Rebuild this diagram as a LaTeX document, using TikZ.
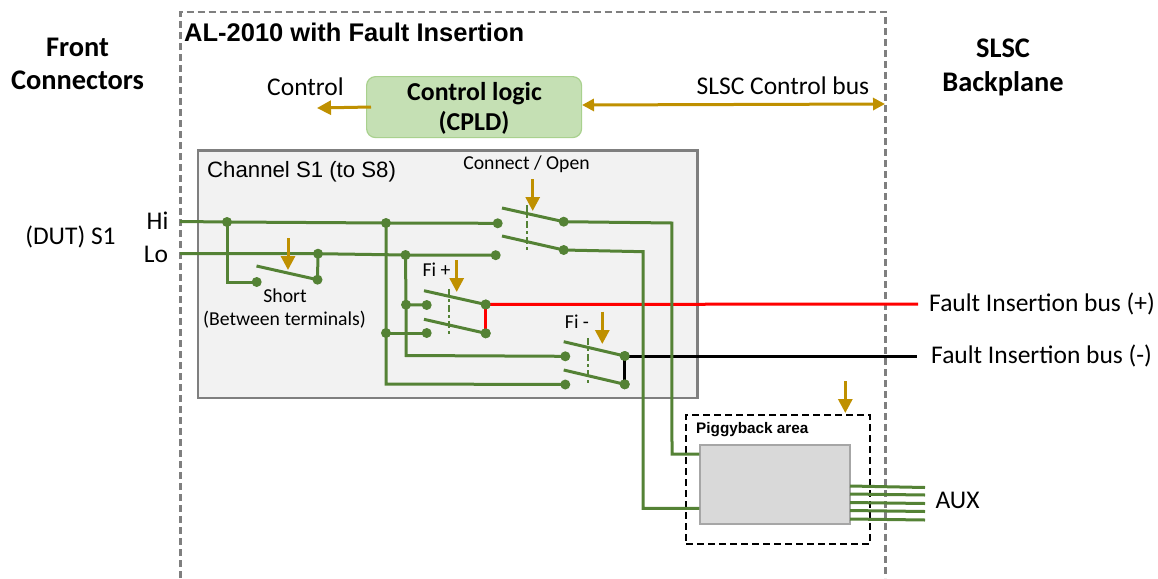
\documentclass[tikz,border=0pt]{standalone}
\usepackage{fontspec}
\setmainfont{Carlito}
\newfontfamily\arialf{Liberation Sans}
\usetikzlibrary{arrows.meta}
\definecolor{wire}{HTML}{548235}
\definecolor{gold}{HTML}{BF9000}
\definecolor{logicfill}{HTML}{C5E0B4}
\definecolor{logicline}{HTML}{A9D18E}
\definecolor{panel}{HTML}{F2F2F2}
\definecolor{edge}{HTML}{7F7F7F}
\definecolor{chip}{HTML}{D9D9D9}
\definecolor{chipline}{HTML}{A6A6A6}
\newcommand{\fsz}[1]{\fontsize{#1}{#1}\selectfont}
\tikzset{
  x=1pt,y=-1pt,
  wireline/.style={draw=wire,line width=3pt},
  gang/.style={draw=wire,line width=2.4pt,dash pattern=on 7pt off 3pt on 3pt off 3pt},
  dotn/.style={circle,fill=wire,inner sep=0pt,minimum size=10pt},
  ctl/.style={draw=gold,line width=3pt,-{Triangle[width=14pt,length=14pt]}},
  ctlboth/.style={draw=gold,line width=3pt,{Triangle[width=12pt,length=12pt]}-{Triangle[width=12pt,length=12pt]}},
  lab/.style={inner sep=0pt,font=\fsz{25.5}},
  smalllab/.style={inner sep=0pt,font=\fsz{19.7}},
  head/.style={inner sep=0pt,font=\fsz{28.4}\bfseries,align=center},
}
\begin{document}
\begin{tikzpicture}
\useasboundingbox (0,0) rectangle (1158,578);
% outer board
\coordinate (ob1) at (180.5,578);
\coordinate (ob2) at (180.5,12);
\coordinate (ob3) at (885.5,12);
\coordinate (ob4) at (885.5,578);
\draw[edge,line width=2.2pt,dash pattern=on 7pt off 4pt] (ob1) -- (ob2) -- (ob3) -- (ob4);
% channel panel
\node[draw=edge,fill=panel,line width=2.4pt,minimum width=499.5pt,minimum height=247.5pt,inner sep=0pt,anchor=north west] (chan) at (196.8,149.3) {};
% titles
\node[inner sep=0pt,anchor=west,font=\arialf\fsz{25.5}\bfseries] (title) at (184,32) {AL-2010 with Fault Insertion};
\node[head] (front) at (77.5,64) {Front\\[4pt]Connectors};
\node[head] (slsc) at (1003,67.5) {SLSC\\[6pt]Backplane};
\node[inner sep=0pt,anchor=west,font=\arialf\fsz{22.2}] (chanl) at (207,171.5) {Channel S1 (to S8)};
% control logic
\node[draw=logicline,fill=logicfill,line width=1.2pt,rounded corners=9pt,minimum width=215pt,minimum height=61pt,inner sep=0pt,anchor=north west] (logic) at (366,76) {};
\node[inner sep=0pt,font=\fsz{25.8}\bfseries] (l1) at (474.5,93.5) {Control logic};
\node[inner sep=0pt,font=\fsz{25.8}\bfseries] (l2) at (474,122.5) {(CPLD)};
\node[lab] (ctrl) at (305.5,86.5) {Control};
\node[lab] (bus) at (783,85.5) {SLSC Control bus};
\coordinate (ctlsrc) at (371,107);
\coordinate (ctltip) at (317,108);
\coordinate (busL) at (582,105);
\coordinate (busR) at (885,104);
\draw[ctl] (ctlsrc) -- (ctltip);
\draw[ctlboth] (busL) -- (busR);
% labels
\node[lab] (dut) at (70.5,237) {(DUT) S1};
\node[lab] (hi) at (157.5,221) {Hi};
\node[lab] (lo) at (156,254) {Lo};
\node[smalllab] (conn) at (526.5,164.5) {Connect / Open};
\node[smalllab] (sh) at (285,296) {Short};
\node[smalllab] (bt) at (284.5,320) {(Between terminals)};
\node[smalllab] (fip) at (436.5,270) {Fi +};
\node[smalllab] (fim) at (577,322) {Fi -};
\node[lab,anchor=west] (fbp) at (929,304) {Fault Insertion bus (+)};
\node[lab,anchor=west] (fbm) at (931,356) {Fault Insertion bus (-)};
\node[lab] (aux) at (957.5,500) {AUX};
% piggyback
\node[draw=black,line width=2pt,dash pattern=on 7pt off 4pt,minimum width=184pt,minimum height=129pt,inner sep=0pt,anchor=north west] (pig) at (685,414) {};
\node[inner sep=0pt,anchor=west,font=\arialf\fsz{15.3}\bfseries] (pigl) at (696,429.5) {Piggyback area};
\node[draw=chipline,fill=chip,line width=1.2pt,minimum width=150pt,minimum height=79pt,inner sep=0pt,anchor=north west] (chipb) at (699.3,444.3) {};
% fault buses
\node[dotn] (fpa) at (485.7,304.5) {};
\node[dotn] (fpb) at (485.7,333.3) {};
\node[dotn] (fma) at (624.7,356) {};
\node[dotn] (fmb) at (624.7,384.3) {};
\coordinate (fpe) at (918,304);
\coordinate (fme) at (917,356);
\draw[red,line width=3pt] (fpa.center) -- (fpe);
\draw[red,line width=3pt] (fpa.center) -- (fpb.center);
\draw[black,line width=3pt] (fma.center) -- (fme);
\draw[black,line width=3pt] (fma.center) -- (fmb.center);
% wires
\coordinate (hiS) at (180,221.5);
\coordinate (loS) at (180,253.5);
\node[dotn] (j1) at (227,222) {};
\node[dotn] (j2) at (386,223) {};
\node[dotn] (cHi) at (497.7,223.3) {};
\node[dotn] (j3) at (318,253.7) {};
\node[dotn] (j4) at (405.5,255) {};
\node[dotn] (cLo) at (495.7,255.2) {};
\draw[wireline] (hiS) -- (j1.center) -- (j2.center) -- (cHi.center);
\draw[wireline] (loS) -- (j3.center) -- (j4.center) -- (cLo.center);
% short switch
\node[dotn] (sa) at (256.7,282) {};
\node[dotn] (sb) at (317.5,279.7) {};
\coordinate (sfree) at (256.5,266);
\coordinate (sc) at (227,282);
\draw[wireline] (j1.center) -- (sc) -- (sa.center);
\draw[wireline] (sfree) -- (sb.center);
\draw[wireline] (j3.center) -- (sb.center);
\coordinate (sat) at (288,238);
\coordinate (sah) at (288,270);
\draw[ctl] (sat) -- (sah);
% Fi+ switch
\node[dotn] (f1) at (426.7,305) {};
\node[dotn] (f2) at (426.7,333) {};
\node[dotn] (j5) at (406,304.7) {};
\node[dotn] (j6) at (386,333) {};
\coordinate (fp1) at (424,290.7);
\coordinate (fp2) at (424,319.3);
\coordinate (k1) at (406,355.5);
\coordinate (k2) at (386,384);
\draw[wireline] (fp1) -- (fpa.center);
\draw[wireline] (fp2) -- (fpb.center);
\draw[wireline] (j5.center) -- (f1.center);
\draw[wireline] (j6.center) -- (f2.center);
\coordinate (fpg1) at (448.7,289);
\coordinate (fpg2) at (448.7,336);
\draw[gang] (fpg1) -- (fpg2);
\coordinate (fpt) at (456.7,260);
\coordinate (fph) at (456.7,292);
\draw[ctl] (fpt) -- (fph);
% Fi- switch
\node[dotn] (m1) at (565.3,356.3) {};
\node[dotn] (m2) at (565.3,384.5) {};
\coordinate (fm1) at (563.7,341.7);
\coordinate (fm2) at (563.7,370);
\draw[wireline] (j4.center) -- (j5.center) -- (k1) -- (m1.center);
\draw[wireline] (j2.center) -- (j6.center) -- (k2) -- (m2.center);
\coordinate (fmg1) at (588,338);
\coordinate (fmg2) at (588,385.7);
\draw[gang] (fmg1) -- (fmg2);
\coordinate (fmt) at (602.3,311.7);
\coordinate (fmh) at (602.3,344);
\draw[ctl] (fmt) -- (fmh);
\draw[wireline] (fm1) -- (fma.center);
\draw[wireline] (fm2) -- (fmb.center);
% connect switch
\node[dotn] (o1) at (563.7,221.7) {};
\node[dotn] (o2) at (563.7,250) {};
\coordinate (cf1) at (502,208);
\coordinate (cf2) at (502,236);
\draw[wireline] (cf1) -- (o1.center);
\draw[wireline] (cf2) -- (o2.center);
\coordinate (cg1) at (527,205);
\coordinate (cg2) at (527,252.7);
\draw[gang] (cg1) -- (cg2);
\coordinate (ct) at (532.7,179);
\coordinate (ch) at (532.7,211);
\draw[ctl] (ct) -- (ch);
% to piggyback
\coordinate (r1) at (671.8,223);
\coordinate (r2) at (672,454);
\coordinate (r3) at (643,251.7);
\coordinate (r4) at (643,508.3);
\draw[wireline] (o1.center) -- (r1) -- (r2) -- (r2-|chipb.west);
\draw[wireline] (o2.center) -- (r3) -- (r4) -- (r4-|chipb.west);
% dots above fault bus wires
\node[dotn] at (fpa) {};
\node[dotn] at (fpb) {};
\node[dotn] at (fma) {};
\node[dotn] at (fmb) {};
% piggyback arrow
\coordinate (pt) at (845.3,381);
\coordinate (ph) at (845.3,413);
\draw[ctl] (pt) -- (ph);
% AUX
\foreach \n/\a/\b in {1/486/487.5,2/494/495,3/502.5/503.5,4/510.5/511.5,5/519/520}{
  \coordinate (au\n) at (850,\a);
  \coordinate (av\n) at (925,\b);
  \draw[wireline] (au\n) -- (av\n);
}
\end{tikzpicture}
\end{document}
